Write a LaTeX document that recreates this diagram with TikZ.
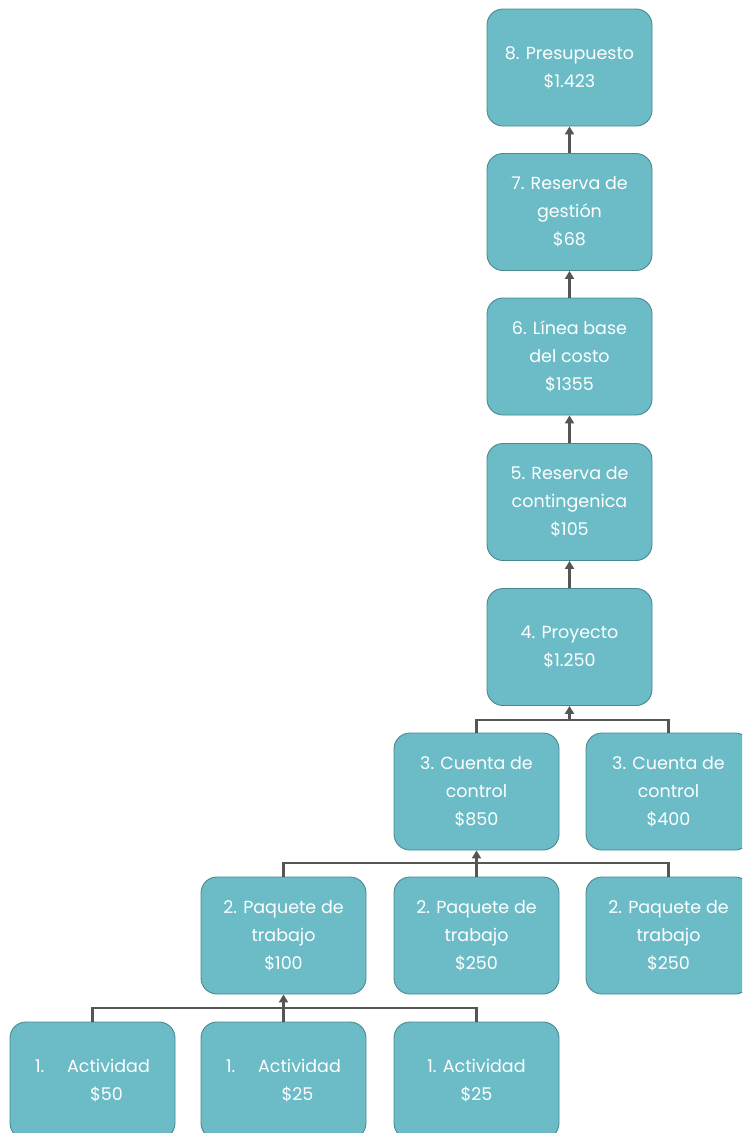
\documentclass[tikz,border=0pt]{standalone}
\usepackage{fontspec}
\setmainfont{Poppins}
\usetikzlibrary{arrows.meta}
\definecolor{boxfill}{HTML}{6BBCC7}
\definecolor{boxline}{HTML}{4A8890}
\definecolor{conncol}{HTML}{555555}
\begin{document}
\begin{tikzpicture}[x=1pt,y=-1pt,
  wbs/.style={draw=boxline, fill=boxfill, line width=0.9pt, rounded corners=16pt,
    minimum width=165pt, minimum height=117pt, text=white, align=center,
    font=\fontsize{17.5}{28}\selectfont, inner sep=0pt},
  conn/.style={draw=conncol, line width=2.8pt},
  arr/.style={conn, -{Triangle[length=8pt,width=9pt]}}]
\path[use as bounding box, clip] (0,0) rectangle (742,1133);
\fill[white] (0,0) rectangle (742,1133);
\node[wbs] (p8) at (569.5,67.5) {8. Presupuesto\\\$1.423};
\node[wbs] (p7) at (569.5,212) {7. Reserva de\\gestión\\\$68};
\node[wbs] (p6) at (569.5,356.5) {6. Línea base\\del costo\\\$1355};
\node[wbs] (p5) at (569.5,502) {5. Reserva de\\contingenica\\\$105};
\node[wbs] (p4) at (569.5,647) {4. Proyecto\\\$1.250};
\node[wbs] (c3a) at (476.5,791.5) {3. Cuenta de\\control\\\$850};
\node[wbs] (c3b) at (668.5,791.5) {3. Cuenta de\\control\\\$400};
\node[wbs] (w2a) at (283.5,935.5) {2. Paquete de\\trabajo\\\$100};
\node[wbs] (w2b) at (476.5,935.5) {2. Paquete de\\trabajo\\\$250};
\node[wbs] (w2c) at (668.5,935.5) {2. Paquete de\\trabajo\\\$250};
\node[wbs] (a1a) at (92.5,1080.5) {1.\hspace*{1.3em}Actividad\\\hspace*{1.6em}\$50};
\node[wbs] (a1b) at (283.5,1080.5) {1.\hspace*{1.3em}Actividad\\\hspace*{1.6em}\$25};
\node[wbs] (a1c) at (476.5,1080.5) {1. Actividad\\\$25};
% vertical chain
\draw[arr] (p7.north) -- (p8.south);
\draw[arr] (p6.north) -- (p7.south);
\draw[arr] (p5.north) -- (p6.south);
\draw[arr] (p4.north) -- (p5.south);
% buses
\coordinate (b4) at (p4.south |- 0,720);
\draw[conn] (c3a.north) |- (b4) -| (c3b.north);
\draw[arr] (b4) -- (p4.south);
\coordinate (b3) at (c3a.south |- 0,863);
\draw[conn] (w2a.north) |- (b3) -| (w2c.north);
\draw[conn] (w2b.north) -- (b3);
\draw[arr] (b3) -- (c3a.south);
\coordinate (b2) at (w2a.south |- 0,1008);
\draw[conn] (a1a.north) |- (b2) -| (a1c.north);
\draw[conn] (a1b.north) -- (b2);
\draw[arr] (b2) -- (w2a.south);
\end{tikzpicture}
\end{document}
